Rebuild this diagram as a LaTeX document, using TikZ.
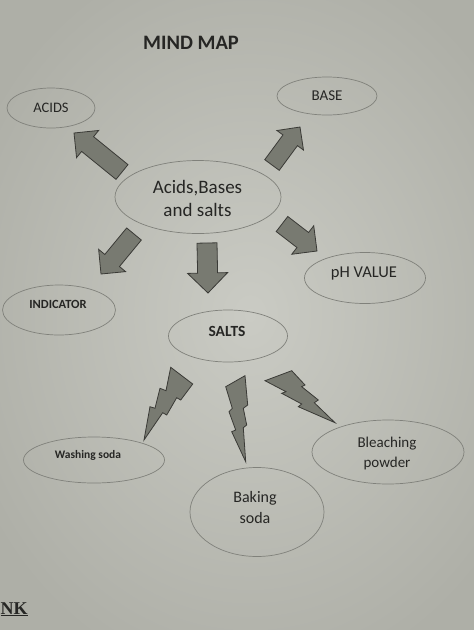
\documentclass[tikz,border=0pt]{standalone}
\usepackage{fontspec}
\setmainfont{Carlito}
\newfontfamily\nkfont{Liberation Serif}
\usetikzlibrary{shapes.geometric,calc}
\definecolor{paperin}{RGB}{202,203,196}
\definecolor{paperout}{RGB}{174,175,167}
\definecolor{ink}{RGB}{38,38,36}
\definecolor{rim}{RGB}{128,129,123}
\definecolor{boltfill}{RGB}{120,122,113}
\definecolor{boltedge}{RGB}{58,58,54}
\newcommand\fs[1]{\fontsize{#1}{#1}\selectfont}
\newdimen\bax \newdimen\bay
% #1 tail, #2 tip, #3 shaft width, #4 head width
\newcommand\blockarrow[4]{%
  \pgfextractx{\bax}{\pgfpointdiff{\pgfpointanchor{#1}{center}}{\pgfpointanchor{#2}{center}}}%
  \pgfextracty{\bay}{\pgfpointdiff{\pgfpointanchor{#1}{center}}{\pgfpointanchor{#2}{center}}}%
  \pgfmathsetmacro\baang{atan2(\bay,\bax)}%
  \pgfmathsetmacro\balen{veclen(\bax,\bay)}%
  \begin{scope}[shift={(#1)}, rotate=\baang]
    \draw[blk] (0,{-#3/2}) -- ({\balen-#4/2},{-#3/2}) -- ({\balen-#4/2},{-#4/2})
      -- (\balen,0) -- ({\balen-#4/2},{#4/2}) -- ({\balen-#4/2},{#3/2})
      -- (0,{#3/2}) -- cycle;
  \end{scope}}
\begin{document}
\begin{tikzpicture}[x=1pt,y=-1pt,
  bub/.style={ellipse, draw=rim, line width=0.7pt, inner sep=0pt},
  lbl/.style={text=ink, align=center, inner sep=0pt},
  blk/.style={draw=boltedge, fill=boltfill, line width=0.8pt, line join=miter},
  bolt/.style={draw=boltedge, fill=boltfill, line width=0.8pt, line join=miter}]
\useasboundingbox (0,0) rectangle (474,630);
\clip (0,0) rectangle (474,630);
\shade[inner color=paperin, outer color=paperout] (-60,-60) rectangle (560,690);

% title
\node[lbl, font=\bfseries\fs{20.5}] (title) at (191,43) {MIND MAP};

% ellipses
\node[bub, minimum width=88, minimum height=40] (acids) at (51,108) {};
\node[bub, minimum width=100, minimum height=38] (base) at (327,96) {};
\node[bub, minimum width=166, minimum height=73] (centre) at (198,197) {};
\node[bub, minimum width=121, minimum height=51] (ph) at (365,278) {};
\node[bub, minimum width=113, minimum height=50] (indicator) at (59,310) {};
\node[bub, minimum width=119, minimum height=52] (salts) at (228,336) {};
\node[bub, minimum width=141, minimum height=46] (washing) at (94,460) {};
\node[bub, minimum width=134, minimum height=89] (baking) at (257,512) {};
\node[bub, minimum width=152, minimum height=64] (bleach) at (388,452) {};

% texts
\node[lbl, font=\fs{14.5}] (acids-t) at (51,108) {ACIDS};
\node[lbl, font=\fs{15}] (base-t) at (327,96) {BASE};
\node[lbl, font=\fs{19}, anchor=base] (centre-t1) at (197.5,193) {Acids,Bases};
\node[lbl, font=\fs{19}, anchor=base] (centre-t2) at (197.5,216) {and salts};
\node[lbl, font=\fs{16.5}] (ph-t) at (364,274) {pH VALUE};
\node[lbl, font=\bfseries\fs{12.5}] (indicator-t) at (58,304) {INDICATOR};
\node[lbl, font=\bfseries\fs{15.5}] (salts-t) at (227,331.5) {SALTS};
\node[lbl, font=\bfseries\fs{11.5}] (washing-t) at (88,455) {Washing soda};
\node[lbl, font=\fs{16}, anchor=base] (baking-t1) at (255,502) {Baking};
\node[lbl, font=\fs{16}, anchor=base] (baking-t2) at (255,523) {soda};
\node[lbl, font=\fs{15}, anchor=base] (bleach-t1) at (387,447) {Bleaching};
\node[lbl, font=\fs{15}, anchor=base] (bleach-t2) at (387,467) {powder};

% page fragment
\node[lbl, font=\nkfont\bfseries\fs{18}, anchor=base west] (nk) at (0.5,614) {\underline{NK}};

% block arrows
\coordinate (a1s) at (122,172); \coordinate (a1e) at (74,133);
\coordinate (a2s) at (272,165); \coordinate (a2e) at (300,127);
\coordinate (a3s) at (134,234); \coordinate (a3e) at (101,274);
\coordinate (a4s) at (207,243); \coordinate (a4e) at (208,293);
\coordinate (a5s) at (282,224); \coordinate (a5e) at (317,251);
\blockarrow{a1s}{a1e}{19}{35}
\blockarrow{a2s}{a2e}{18}{33}
\blockarrow{a3s}{a3e}{19}{35}
\blockarrow{a4s}{a4e}{20}{40}
\blockarrow{a5s}{a5e}{19}{36}

% lightning bolts
\draw[bolt] (170.7,367.3) -- (192.7,384) -- (180.7,400) -- (176.7,397.7)
  -- (166.7,415) -- (162.7,412.7) -- (144,440) -- (150,406.7) -- (155,408.3)
  -- (160,388.3) -- (166,390.7) -- cycle;
\draw[bolt] (225.7,386.7) -- (245,375.7) -- (247.7,405) -- (243.3,408.3)
  -- (246.7,425) -- (243.3,427.7) -- (245.7,461.7) -- (231.7,431.7)
  -- (235.7,430) -- (229,411.7) -- (232.3,408.3) -- cycle;
\draw[bolt] (265,380.7) -- (291.7,370.7) -- (305,385) -- (301.7,386.7)
  -- (318.3,400) -- (314.3,402.7) -- (335,422.7) -- (298.3,406.7)
  -- (301.7,404) -- (281.7,393.3) -- (286,391.7) -- cycle;
\end{tikzpicture}
\end{document}
